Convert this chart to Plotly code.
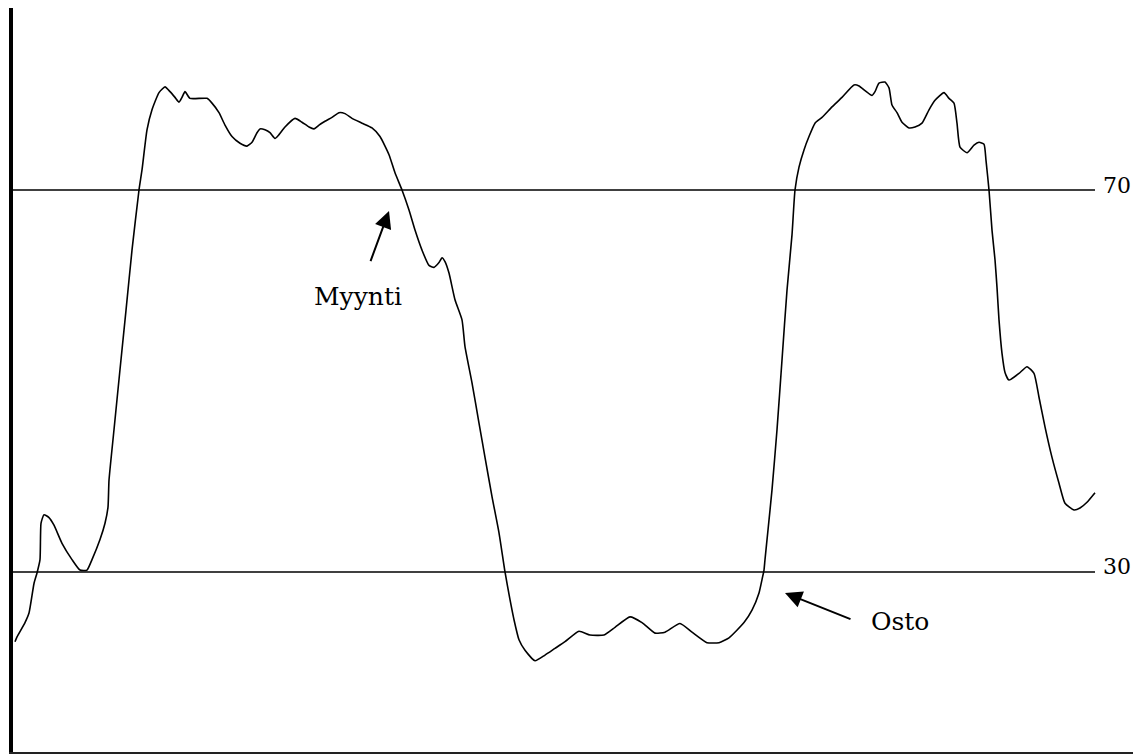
import plotly.graph_objects as go

# RSI-like oscillator trace (x = period index, y = oscillator value)
period = [0.1, 0.3, 1.1, 1.5, 2.0, 2.3, 2.6, 2.7, 3.0, 3.5, 4.0, 4.8, 5.8, 6.6, 7.3, 7.8, 8.6, 9.1, 9.4, 9.5,
          10.0, 10.6, 11.2, 11.8, 12.5, 12.8, 13.3, 13.8, 14.5, 15.1, 15.6, 16.1, 16.5, 16.8, 17.1, 17.6, 19.3,
          19.8, 20.5, 21.1, 21.8, 22.6, 23.3, 23.8, 24.3, 24.6, 25.1, 25.6, 26.1, 26.5, 27.1, 28.1, 28.8, 29.5,
          30.0, 30.5, 31.1, 31.8, 32.5, 33.1, 33.8, 34.8, 35.8, 36.6, 37.5, 38.1, 38.8, 39.5, 40.1, 40.8, 41.5,
          42.0, 42.5, 42.8, 43.1, 43.5, 44.1, 44.8, 45.1, 45.8, 46.5, 47.1, 47.8, 48.5, 49.1, 49.6, 50.0, 50.5,
          51.1, 52.1, 53.1, 54.1, 55.1, 56.5, 57.6, 59.0, 60.1, 61.6, 62.8, 64.1, 65.1, 66.6, 67.8, 69.3, 70.5,
          71.5, 73.0, 73.8, 74.5, 74.8, 75.0, 75.1, 75.4, 75.8, 76.3, 76.8, 77.3, 77.8, 78.1, 78.5, 79.0, 79.5,
          80.1, 80.8, 81.8, 82.8, 84.0, 84.5, 85.1, 85.8, 86.1, 86.5, 87.1, 87.5, 87.8, 88.3, 88.8, 89.5, 90.1,
          90.8, 91.5, 92.1, 93.0, 93.5, 94.0, 94.3, 94.6, 95.3, 96.0, 96.5, 97.0, 97.2, 97.5, 97.8, 98.1, 98.3,
          98.5, 98.8, 99.1, 99.5, 100.5, 101.3, 102.0, 102.5, 103.1, 103.8, 104.5, 105.1, 106.0, 106.6, 107.3,
          108.1]
rsi = [22.7, 23.2, 24.7, 25.7, 28.8, 29.9, 31.3, 35.1, 36.0, 35.7, 34.9, 33.0, 31.3, 30.2, 30.2, 31.3, 33.4,
       35.1, 36.8, 39.6, 44.9, 51.2, 57.4, 63.7, 70.0, 72.1, 76.3, 78.4, 80.2, 80.8, 80.3, 79.7, 79.2, 79.7,
       80.3, 79.6, 79.6, 79.1, 78.1, 76.8, 75.6, 74.9, 74.6, 75.0, 76.0, 76.4, 76.3, 76.0, 75.4, 75.8, 76.6,
       77.5, 77.1, 76.6, 76.4, 76.8, 77.2, 77.6, 78.1, 78.0, 77.5, 77.0, 76.5, 75.6, 73.7, 71.8, 70.0, 67.9,
       65.8, 63.7, 62.1, 61.9, 62.4, 62.9, 62.5, 61.3, 58.5, 56.4, 53.6, 49.8, 45.6, 42.0, 37.9, 34.1, 30.0,
       27.1, 25.0, 22.9, 21.8, 20.7, 21.3, 22.0, 22.7, 23.8, 23.4, 23.4, 24.2, 25.3, 24.7, 23.6, 23.7, 24.6,
       23.7, 22.6, 22.6, 23.1, 24.7, 26.0, 27.8, 29.2, 30.2, 31.3, 34.4, 38.6, 44.9, 52.2, 59.5, 65.3, 70.0,
       72.4, 74.2, 75.6, 77.0, 77.6, 78.7, 79.7, 81.0, 80.9, 80.4, 79.9, 80.3, 81.2, 81.3, 80.7, 78.9, 78.1,
       77.1, 76.5, 76.6, 77.0, 78.4, 79.4, 80.2, 79.6, 79.1, 77.0, 74.5, 73.9, 74.7, 75.0, 74.8, 73.1, 70.0,
       65.8, 62.7, 59.8, 56.4, 52.9, 50.9, 50.1, 50.8, 51.5, 50.8, 48.3, 45.2, 42.0, 39.3, 37.2, 36.5, 36.7,
       37.3, 38.3]

levels = [70, 30]
level_labels = ["70", "30"]
level_end = 108.1
label_x = 110.3

signal_texts = ["Myynti", "Osto"]
signal_text_x = [34.4, 88.6]
signal_text_y = [58.8, 24.8]
arrow_tip_x = [37.5, 77.1]
arrow_tip_y = [67.8, 27.8]
arrow_tail_x = [35.6, 83.8]
arrow_tail_y = [62.4, 25.0]

FONT = "DejaVu Serif"

fig = go.Figure()

for lv in levels:
    fig.add_trace(go.Scatter(x=[-0.1, level_end], y=[lv, lv], mode="lines",
                             line=dict(color="black", width=1.5), hoverinfo="skip", showlegend=False))

fig.add_trace(go.Scatter(x=period, y=rsi, mode="lines",
                         line=dict(color="black", width=1.6, shape="spline", smoothing=0.5),
                         showlegend=False))

annotations = []
for lv, lab in zip(levels, level_labels):
    annotations.append(dict(x=label_x, y=lv, text=lab, showarrow=False, yshift=5,
                            font=dict(family=FONT, size=22, color="black")))
for t, tx, ty in zip(signal_texts, signal_text_x, signal_text_y):
    annotations.append(dict(x=tx, y=ty, text=t, showarrow=False,
                            font=dict(family=FONT, size=25, color="black")))
for hx, hy, txx, tyy in zip(arrow_tip_x, arrow_tip_y, arrow_tail_x, arrow_tail_y):
    annotations.append(dict(x=hx, y=hy, ax=txx, ay=tyy, axref="x", ayref="y", text="",
                            showarrow=True, arrowhead=2, arrowsize=1.7, arrowwidth=2,
                            arrowcolor="black", standoff=0, startstandoff=0))

# page body has an 8px default margin, so the figure is sized to the remaining viewport
fig.update_layout(
    width=1133, height=748,
    margin=dict(l=5, r=0, t=0, b=4),
    paper_bgcolor="white", plot_bgcolor="white",
    annotations=annotations,
    xaxis=dict(range=[-0.1, 112.7], showgrid=False, zeroline=False, showticklabels=False,
               ticks="", showline=True, linecolor="#222", linewidth=2),
    yaxis=dict(range=[11.15, 89.06], showgrid=False, zeroline=False, showticklabels=False,
               ticks="", showline=True, linecolor="black", linewidth=4),
)

fig.write_html("out.html")
